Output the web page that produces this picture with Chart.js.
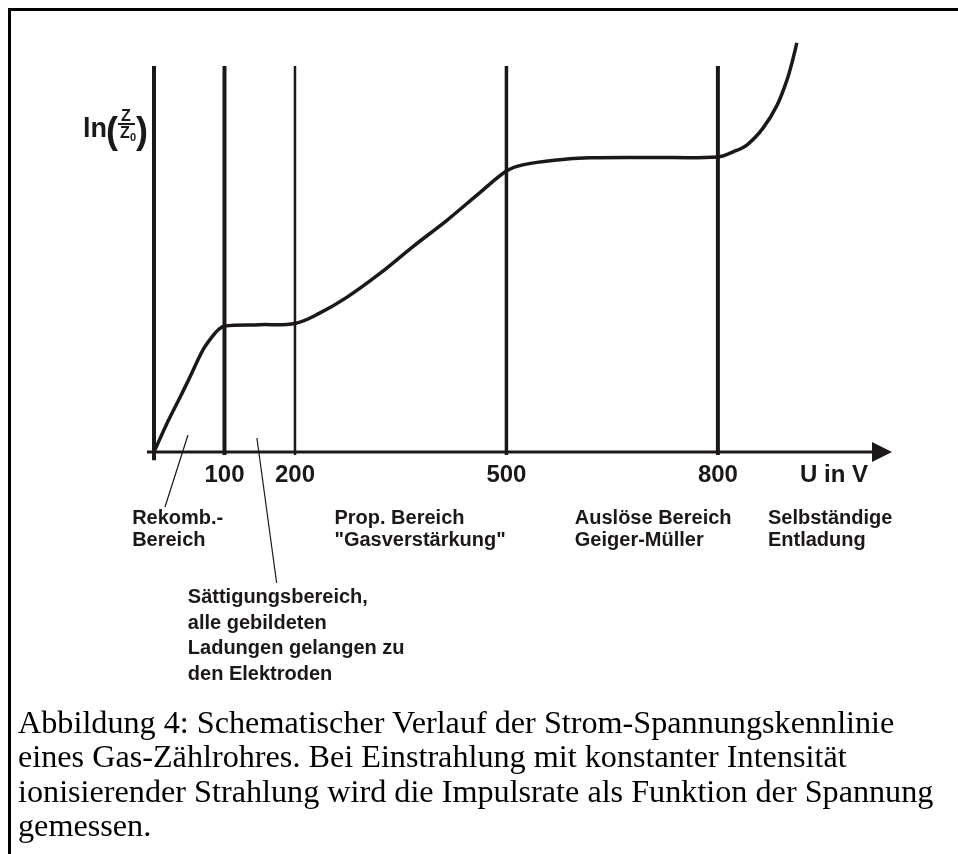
<!DOCTYPE html>
<html>
<head>
<meta charset="utf-8">
<script src="https://cdn.jsdelivr.net/npm/chart.js@4.4.1/dist/chart.umd.min.js"></script>
<style>
  html, body { margin: 0; padding: 0; background: #fff; }
  #wrap { position: relative; width: 958px; height: 854px; overflow: hidden; }
  #frame { position: absolute; left: 8px; top: 8px; right: -10px; bottom: -10px;
           border-left: 3px solid #000; border-top: 3px solid #000; }
  #chart { position: absolute; left: 0; top: 0; }
  #caption { position: absolute; left: 18px; top: 705px; width: 940px;
             font-family: "Liberation Serif", "Times New Roman", serif;
             font-size: 32.2px; line-height: 34.4px; color: #000; white-space: nowrap; }
</style>
</head>
<body>
<div id="wrap">
  <canvas id="chart" width="958" height="854"></canvas>
  <div id="frame"></div>
  <div id="caption">
    Abbildung 4: Schematischer Verlauf der Strom-Spannungskennlinie<br>
    eines Gas-Zählrohres. Bei Einstrahlung mit konstanter Intensität<br>
    ionisierender Strahlung wird die Impulsrate als Funktion der Spannung<br>
    gemessen.
  </div>
</div>
<script>
// Kennlinie: Spannung in V, ln(Z/Z0) in willkürlichen Einheiten
const voltage = [0, 20, 37, 51, 69.5, 84, 92, 100, 150, 200, 235, 274, 321, 367, 416, 462, 500, 523, 572, 618, 700, 800, 821, 841, 864, 884, 898, 906, 912];
const lnRate  = [0, 7.5, 13.3, 18.2, 24.8, 28.3, 29.8, 30.6, 30.9, 31.2, 33.7, 37.6, 43.4, 49.8, 56.3, 62.9, 68.2, 69.7, 70.9, 71.4, 71.5, 71.6, 72.8, 74.5, 78.6, 84.2, 90.3, 95.1, 99.3];

// Bereichsgrenzen
const boundaries = [0, 100, 200, 500, 800];
const boundaryTop = 93.7;

// Achsenbeschriftung
const tickValues = [100, 200, 500, 800];
const tickLabels = ['100', '200', '500', '800'];
const xAxisTitle = 'U in V';

// Bereichsnamen
const regionTexts = [
    ['Rekomb.-', 'Bereich'],
    ['Prop. Bereich', '"Gasverstärkung"'],
    ['Auslöse Bereich', 'Geiger-Müller'],
    ['Selbständige', 'Entladung'],
    ['Sättigungsbereich,', 'alle gebildeten', 'Ladungen gelangen zu', 'den Elektroden']
];

const ink = '#1c1819';

// Lage der Beschriftungen (x in V, dy in px unter der Achse)
const regionPos = [
    { x: -31, dy: 72, lh: 22 },
    { x: 256, dy: 72, lh: 22 },
    { x: 597, dy: 72, lh: 22 },
    { x: 871, dy: 72, lh: 22 },
    { x: 48, dy: 151, lh: 25.5 }
];
const pointers = [
    { x1: 15.6, dy1: 55, x2: 48.2, dy2: -17 },
    { x1: 146, dy1: -14, x2: 174, dy2: 131 }
];

const datasets = [{
    data: voltage.map((v, i) => ({ x: v, y: lnRate[i] })),
    borderColor: ink,
    borderWidth: 3.5,
    pointRadius: 0,
    tension: 0.35,
    clip: false
}];
const widths = [4, 4, 2.5, 3.5, 4];
boundaries.forEach((b, i) => {
    datasets.push({
        data: [{ x: b, y: i === 0 ? -2 : -0.7 }, { x: b, y: boundaryTop }],
        borderColor: ink,
        borderWidth: widths[i],
        pointRadius: 0,
        clip: false
    });
});

const decorations = {
    id: 'decorations',
    afterDatasetsDraw(chart) {
        const ctx = chart.ctx;
        const xs = chart.scales.x, ys = chart.scales.y;
        const y0 = ys.getPixelForValue(0);
        const xStart = xs.getPixelForValue(-10);
        const xEnd = xs.getPixelForValue(xs.max);
        ctx.save();
        ctx.fillStyle = ink;
        ctx.strokeStyle = ink;

        // x-Achse mit Pfeil
        ctx.lineWidth = 3;
        ctx.beginPath();
        ctx.moveTo(xStart, y0);
        ctx.lineTo(xEnd - 18, y0);
        ctx.stroke();
        ctx.beginPath();
        ctx.moveTo(xEnd, y0);
        ctx.lineTo(xEnd - 20, y0 - 10);
        ctx.lineTo(xEnd - 20, y0 + 10);
        ctx.closePath();
        ctx.fill();

        // Teilstriche
        ctx.font = 'bold 24px "Liberation Sans", Arial, sans-serif';
        ctx.textAlign = 'center';
        ctx.textBaseline = 'alphabetic';
        tickValues.forEach((v, i) => {
            ctx.fillText(tickLabels[i], xs.getPixelForValue(v), y0 + 30);
        });
        ctx.textAlign = 'left';
        ctx.fillText(xAxisTitle, 800, y0 + 30);

        // Bereichsnamen
        ctx.font = 'bold 20px "Liberation Sans", Arial, sans-serif';
        regionTexts.forEach((lines, i) => {
            const p = regionPos[i];
            lines.forEach((t, j) => {
                ctx.fillText(t, xs.getPixelForValue(p.x), y0 + p.dy + j * p.lh);
            });
        });

        // Hinweislinien
        ctx.lineWidth = 1.2;
        pointers.forEach(p => {
            ctx.beginPath();
            ctx.moveTo(xs.getPixelForValue(p.x1), y0 + p.dy1);
            ctx.lineTo(xs.getPixelForValue(p.x2), y0 + p.dy2);
            ctx.stroke();
        });

        // y-Beschriftung ln(Z/Z0)
        const lx = xs.getPixelForValue(0) - 71;
        const ly = 137;
        ctx.font = 'bold 27px "Liberation Sans", Arial, sans-serif';
        ctx.fillText('ln', lx, ly);
        ctx.font = 'bold 36px "Liberation Sans", Arial, sans-serif';
        ctx.fillText('(', lx + 23, ly + 6);
        ctx.fillText(')', lx + 53, ly + 6);
        ctx.font = 'bold 16px "Liberation Sans", Arial, sans-serif';
        ctx.textAlign = 'center';
        ctx.fillText('Z', lx + 43, ly - 16);
        ctx.fillRect(lx + 35, ly - 14, 17, 2);
        ctx.fillText('Z', lx + 42, ly + 1);
        ctx.font = 'bold 11px "Liberation Sans", Arial, sans-serif';
        ctx.fillText('0', lx + 50, ly + 4);
        ctx.restore();
    }
};

new Chart(document.getElementById('chart'), {
    type: 'line',
    data: { datasets: datasets },
    options: {
        responsive: false,
        animation: false,
        devicePixelRatio: 1,
        layout: { padding: { left: 154, right: 66, top: 40, bottom: 402 } },
        plugins: { legend: { display: false }, tooltip: { enabled: false } },
        scales: {
            x: { type: 'linear', min: 0, max: 1047, display: false },
            y: { type: 'linear', min: 0, max: 100, display: false }
        }
    },
    plugins: [decorations]
});
</script>
</body>
</html>
